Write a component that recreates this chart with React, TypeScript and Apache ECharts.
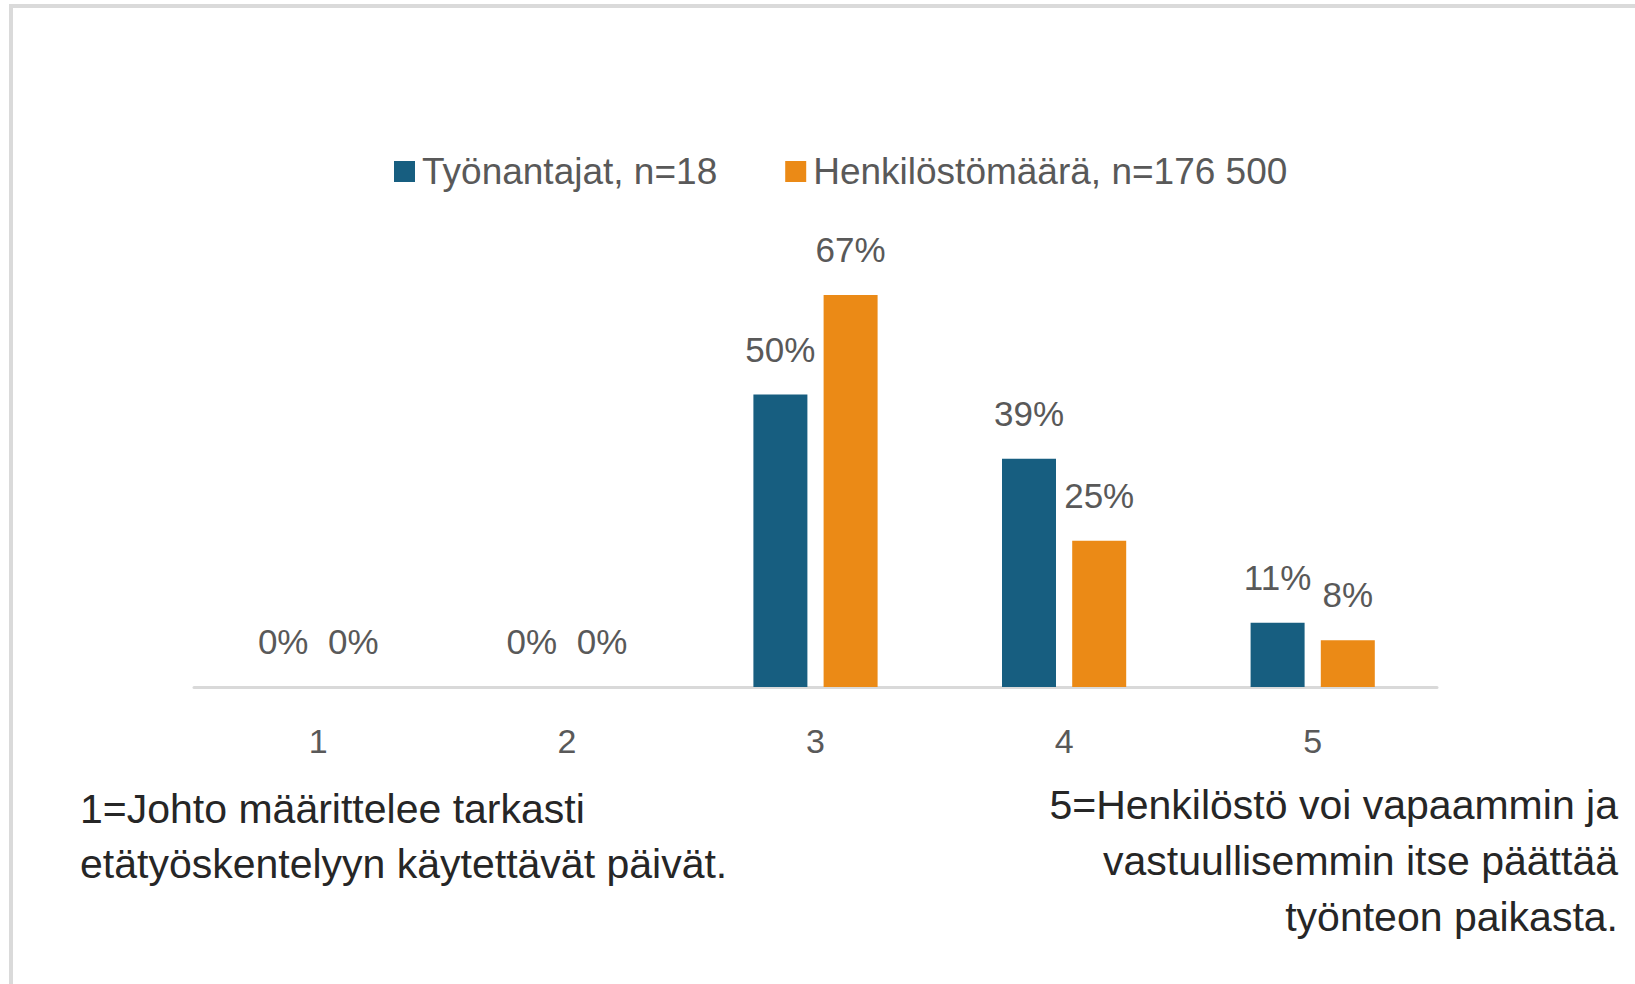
import React, { useEffect, useRef } from "react";
import * as echarts from "echarts";

const categories = ["1", "2", "3", "4", "5"];
const seriesNames = ["Työnantajat, n=18", "Henkilöstömäärä, n=176 500"];
const employers = [0, 0, 50, 39, 11];
const staff = [0, 0, 67, 25, 8];
const leftNote = "1=Johto määrittelee tarkasti\netätyöskentelyyn käytettävät päivät.";
const rightNote = "5=Henkilöstö voi vapaammin ja\nvastuullisemmin itse päättää\ntyönteon paikasta.";

const FONT = "'Liberation Sans', Arial, sans-serif";
const BLUE = "#175E80";
const ORANGE = "#EB8A16";

export default function App() {
  const ref = useRef<HTMLDivElement>(null);
  useEffect(() => {
    if (!ref.current) return;
    const chart = echarts.init(ref.current, null, { renderer: "svg" });
    const label = {
      show: true,
      position: "top",
      distance: 28,
      formatter: "{c}%",
      color: "#595959",
      fontSize: 35,
      fontFamily: FONT,
    };
    chart.setOption({
      animation: false,
      backgroundColor: "#ffffff",
      textStyle: { fontFamily: FONT },
      legend: {
        left: 389,
        top: 148,
        icon: "rect",
        itemWidth: 21,
        itemHeight: 21,
        itemGap: 68,
        textStyle: { fontSize: 37, color: "#595959", fontFamily: FONT, padding: [0, 0, 0, 2] },
        data: seriesNames,
      },
      grid: { left: 194, right: 198, top: 219, bottom: 297, containLabel: false },
      xAxis: {
        type: "category",
        data: categories,
        axisLine: { show: true, lineStyle: { color: "#d9d9d9", width: 3 } },
        axisTick: { show: false },
        axisLabel: { fontSize: 34, color: "#595959", margin: 37, fontFamily: FONT },
      },
      yAxis: {
        type: "value",
        min: 0,
        max: 80,
        show: false,
        splitLine: { show: false },
      },
      series: [
        {
          name: seriesNames[0],
          type: "bar",
          data: employers,
          barWidth: 54,
          barGap: "30%",
          itemStyle: { color: BLUE },
          label,
        },
        {
          name: seriesNames[1],
          type: "bar",
          data: staff,
          barWidth: 54,
          itemStyle: { color: ORANGE },
          label,
        },
      ],
      graphic: [
        {
          type: "rect",
          shape: { x: 11, y: 6, width: 1700, height: 1100 },
          style: { fill: "none", stroke: "#dadada", lineWidth: 4 },
          silent: true,
        },
        {
          type: "text",
          x: 80,
          y: 836,
          style: {
            text: leftNote,
            font: `41px ${FONT}`,
            fill: "#262626",
            textAlign: "left",
            textVerticalAlign: "middle",
            lineHeight: 55,
          },
        },
        {
          type: "text",
          x: 1618,
          y: 861,
          style: {
            text: rightNote,
            font: `41px ${FONT}`,
            fill: "#262626",
            textAlign: "right",
            textVerticalAlign: "middle",
            lineHeight: 56,
          },
        },
      ],
    });
    return () => chart.dispose();
  }, []);
  return (
    <div
      ref={ref}
      style={{ position: "fixed", left: 0, top: 0, width: 1635, height: 984 }}
    />
  );
}
